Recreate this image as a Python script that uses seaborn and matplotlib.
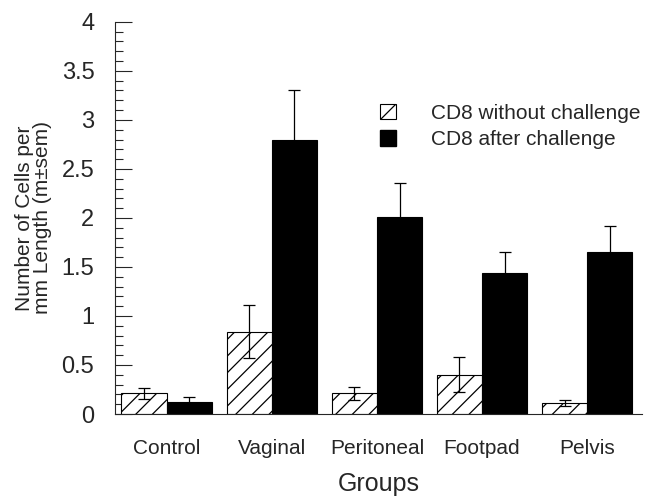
import pandas as pd
import seaborn as sns
import matplotlib.pyplot as plt
from matplotlib.patches import Patch
from matplotlib.ticker import MultipleLocator

groups = ["Control", "Vaginal", "Peritoneal", "Footpad", "Pelvis"]
series = ["CD8 without challenge", "CD8 after challenge"]
without_mean = [0.21, 0.84, 0.21, 0.40, 0.11]
without_sem = [0.06, 0.27, 0.07, 0.18, 0.03]
after_mean = [0.12, 2.79, 2.01, 1.44, 1.65]
after_sem = [0.05, 0.52, 0.35, 0.21, 0.27]
yticks = [0, 0.5, 1, 1.5, 2, 2.5, 3, 3.5, 4]
ytick_labels = ["0", "0.5", "1", "1.5", "2", "2.5", "3", "3.5", "4"]

df = pd.DataFrame({
    "Groups": groups * 2,
    "Series": [series[0]] * 5 + [series[1]] * 5,
    "Value": without_mean + after_mean,
})

sns.set_style("ticks")
plt.rcParams["font.family"] = ["Liberation Sans", "DejaVu Sans"]
plt.rcParams["hatch.linewidth"] = 0.9

fig = plt.figure(figsize=(6.47, 4.97), dpi=100)
ax = fig.add_axes([0.178, 0.167, 0.814, 0.789])

sns.barplot(data=df, x="Groups", y="Value", hue="Series", order=groups,
            hue_order=series, palette=["white", "black"], errorbar=None,
            width=0.86, gap=0, edgecolor="black", linewidth=0.8,
            legend=False, ax=ax)

# hatch the first series and add sem bars on top of each bar
n = len(groups)
for i, bar in enumerate(ax.patches[:2 * n]):
    s = i // n
    g = i % n
    if s == 0:
        bar.set_hatch("//")
    err = without_sem[g] if s == 0 else after_sem[g]
    xc = bar.get_x() + bar.get_width() / 2
    ax.errorbar(xc, bar.get_height(), yerr=err, color="black", lw=0.9,
                capsize=4, capthick=0.9, zorder=1 if s == 1 else 3)

ax.set_xlim(-0.49, 4.52)
ax.set_ylim(0, 4)
ax.set_yticks(yticks)
ax.set_yticklabels(ytick_labels)
ax.yaxis.set_minor_locator(MultipleLocator(0.1))
ax.tick_params(axis="y", which="major", direction="in", length=12, width=0.8,
               labelsize=17, pad=15)
ax.tick_params(axis="y", which="minor", direction="in", length=6, width=0.8)
ax.tick_params(axis="x", length=0, labelsize=15, pad=18)
sns.despine(ax=ax)
for sp in ["left", "bottom"]:
    ax.spines[sp].set_linewidth(0.8)

ax.set_xlabel("Groups", fontsize=18, labelpad=10)
ax.set_ylabel("Number of Cells per\nmm Length (m\u00b1sem)", fontsize=15,
              labelpad=7, linespacing=0.95)

handles = [Patch(facecolor="white", edgecolor="black", hatch="//", lw=0.8),
           Patch(facecolor="black", edgecolor="black")]
ax.legend(handles, series, frameon=False, fontsize=15, handlelength=0.75,
          handleheight=0.75, handletextpad=1.7, labelspacing=0.35,
          borderpad=0, borderaxespad=0, loc="upper left",
          bbox_to_anchor=(380 / 647, 1 - 104 / 497),
          bbox_transform=fig.transFigure)

fig.savefig("out.png", dpi=100)
